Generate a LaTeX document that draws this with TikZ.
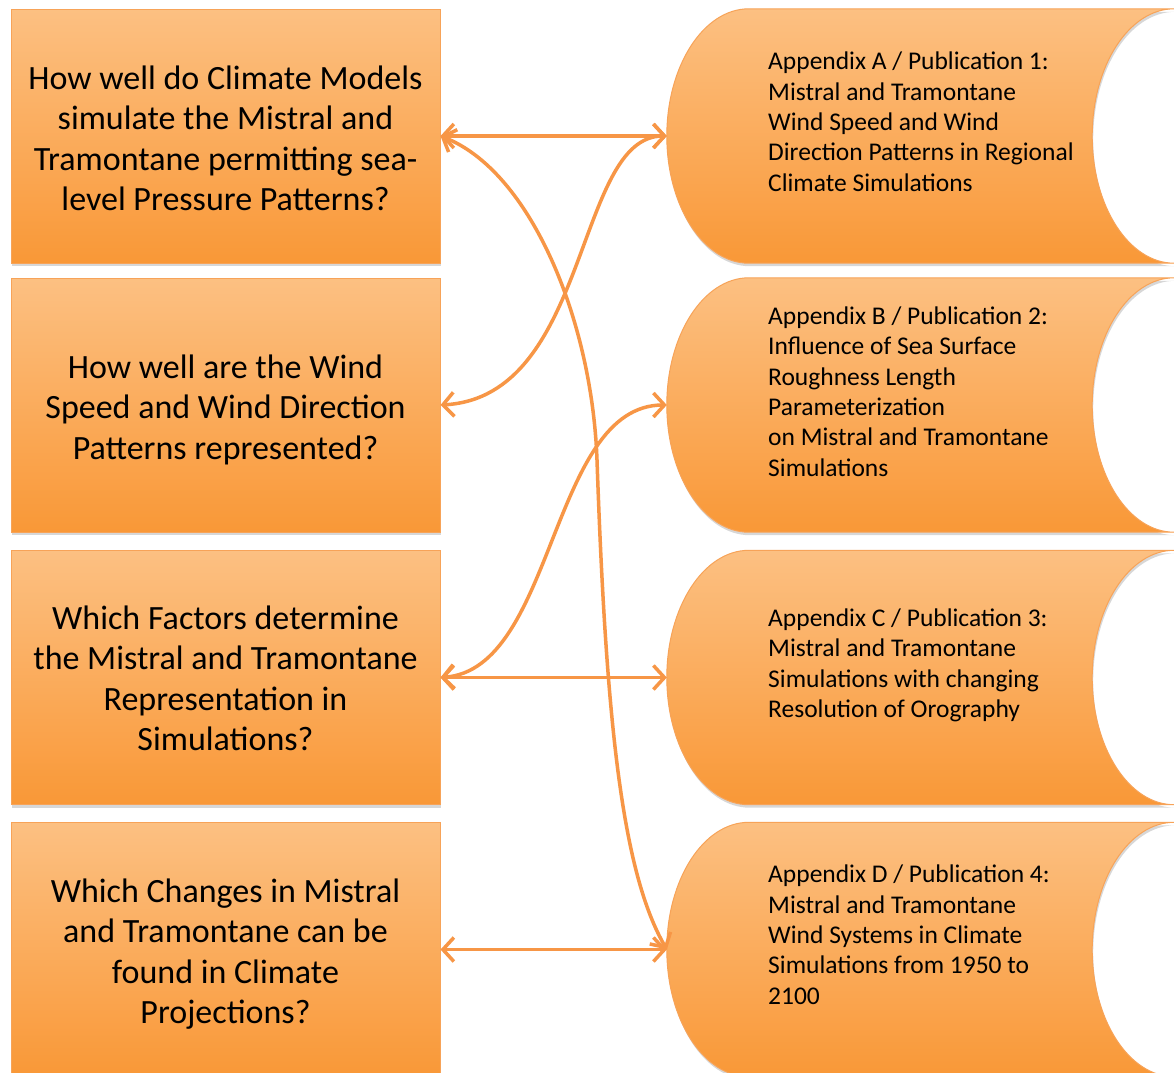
\documentclass[tikz,border=0pt]{standalone}
\usepackage{fontspec}
\setmainfont{Carlito}
\usetikzlibrary{arrows.meta,shadows,calc}

\definecolor{boxtop}{RGB}{252,192,130}
\definecolor{boxbot}{RGB}{249,152,55}
\definecolor{boxline}{RGB}{247,163,88}
\definecolor{linkcol}{RGB}{247,150,70}

\tikzset{
  softshadow/.style={drop shadow={shadow xshift=1pt, shadow yshift=-3pt, opacity=0.22, fill=black!70}},
  qbox/.style={draw=boxline, line width=1pt, top color=boxtop, bottom color=boxbot,
    minimum width=429pt, minimum height=254pt, inner sep=0pt, softshadow},
  pubshape/.style={draw=boxline, line width=1pt, top color=boxtop, bottom color=boxbot, softshadow},
  anchorbox/.style={minimum width=507pt, minimum height=254pt, inner sep=0pt},
  qtext/.style={align=center, anchor=base, inner sep=0pt, text=black,
    font=\fontsize{34}{40.5}\selectfont},
  ptext/.style={align=left, anchor=base west, inner sep=0pt, text=black,
    font=\fontsize{25.5}{30.3}\selectfont},
  link/.style={draw=linkcol, line width=3.5pt,
    {Straight Barb[length=11pt,width=24pt]}-{Straight Barb[length=11pt,width=24pt]}},
}

% "stored data" outline: convex left end, concave right end
\newcommand\storedshape[2]{%
  \node[anchorbox] (#1) at (920.5,#2) {};
  \path[pubshape]
    ($(#1.north west)+(82,0)$) -- (#1.north east)
    .. controls +(-45.3,0) and +(0,-70.1) .. ($(#1.east)+(-82,0)$)
    .. controls +(0,70.1) and +(-45.3,0) .. (#1.south east)
    -- ($(#1.south west)+(82,0)$)
    .. controls +(-45.3,0) and +(0,70.1) .. (#1.west)
    .. controls +(0,-70.1) and +(-45.3,0) .. ($(#1.north west)+(82,0)$)
    -- cycle;
}

\begin{document}
\begin{tikzpicture}[x=1pt, y=-1pt]
  \fill[white] (0,0) rectangle (1174,1072);
  \useasboundingbox (0,0) rectangle (1174,1072);

  % research questions (text nodes placed by the baseline of their last line)
  \node[qbox] (b1) at (225.5,136) {};
  \node[qbox] (b2) at (225.5,405) {};
  \node[qbox] (b3) at (225.5,677.5) {};
  \node[qbox] (b4) at (225.5,949.5) {};

  \node[qtext] (t1) at (225.5,210.5) {How well do Climate Models\\simulate the Mistral and\\Tramontane permitting sea-\\level Pressure Patterns?};
  \node[qtext] (t2) at (225.5,459) {How well are the Wind\\Speed and Wind Direction\\Patterns represented?};
  \node[qtext] (t3) at (225.5,750.5) {Which Factors determine\\the Mistral and Tramontane\\Representation in\\Simulations?};
  \node[qtext] (t4) at (225.5,1023.5) {Which Changes in Mistral\\and Tramontane can be\\found in Climate\\Projections?};

  % publications
  \storedshape{pa}{136}
  \storedshape{pb}{405}
  \storedshape{pc}{677.5}
  \storedshape{pd}{949.5}

  \node[ptext] (sa) at (768,191) {Appendix A / Publication 1:\\Mistral and Tramontane\\Wind Speed and Wind\\Direction Patterns in Regional\\Climate Simulations};
  \node[ptext] (sb) at (768,476) {Appendix B / Publication 2:\\Influence of Sea Surface\\Roughness Length\\Parameterization\\on Mistral and Tramontane\\Simulations};
  \node[ptext] (sc) at (768,717.5) {Appendix C / Publication 3:\\Mistral and Tramontane\\Simulations with changing\\Resolution of Orography};
  \node[ptext] (sd) at (768,1004) {Appendix D / Publication 4:\\Mistral and Tramontane\\Wind Systems in Climate\\Simulations from 1950 to\\2100};

  % links between questions and publications
  \coordinate (mid) at (597,460);
  \draw[link] (b1.east) -- (pa.west);
  \draw[link] (b2.east) .. controls +(150,-8) and +(-92,0) .. (pa.west);
  \draw[link] (b3.east) .. controls +(115,-8) and +(-117,0) .. (pb.west);
  \draw[link] (b3.east) -- (pc.west);
  \draw[link] (b1.east) .. controls +(90,35) and +(-5,-140) .. (mid)
                        .. controls +(9,260) and +(-45,-78) .. (pd.west);
  \draw[link] (b4.east) -- (pd.west);
\end{tikzpicture}
\end{document}
